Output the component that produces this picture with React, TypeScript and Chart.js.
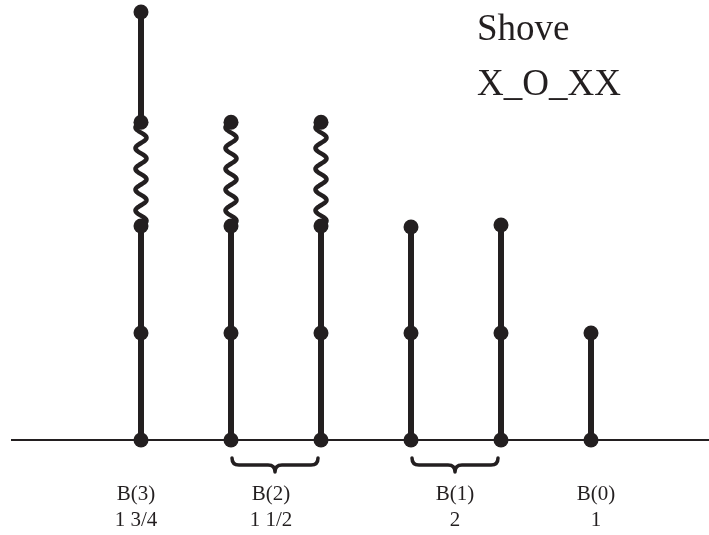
import React, { useEffect, useRef } from "react";
import { Chart, registerables } from "chart.js";

Chart.register(...registerables);

// ---- data ----
const stemX = [1, 2, 3, 4, 5, 6];
const stemLevels = [
  [0, 1, 2, 2.97, 4],
  [0, 1, 2, 2.97],
  [0, 1, 2, 2.97],
  [0, 1, 1.99],
  [0, 1, 2.01],
  [0, 1],
];
// index of the segment (from level k to k+1) that is a wavy spring; null = none
const springSegment: (number | null)[] = [2, 2, 2, null, null, null];
const groupNames = ["B(3)", "B(2)", "B(1)", "B(0)"];
const groupValues = ["1 3/4", "1 1/2", "2", "1"];
const groupStems = [[0], [1, 2], [3, 4], [5]];
const titleLines = ["Shove", "X_O_XX"];

const INK = "#231f20";
const W = 709;
const H = 535;

function buildPoints(i: number) {
  const pts: { x: number; y: number | null }[] = [];
  const lv = stemLevels[i];
  for (let k = 0; k < lv.length; k++) {
    pts.push({ x: stemX[i], y: lv[k] });
    if (springSegment[i] === k && k < lv.length - 1) {
      pts.push({ x: stemX[i], y: null });
    }
  }
  return pts;
}

const decorPlugin = {
  id: "decor",
  beforeDatasetsDraw(chart: any) {
    const { ctx, scales, chartArea } = chart;
    const xs = scales.x;
    const ys = scales.y;
    const base = ys.getPixelForValue(0);
    ctx.save();
    // baseline axis
    ctx.strokeStyle = INK;
    ctx.lineWidth = 2;
    ctx.beginPath();
    ctx.moveTo(chartArea.left + 11, base);
    ctx.lineTo(chartArea.right, base);
    ctx.stroke();
    // springs
    ctx.lineWidth = 4.5;
    ctx.lineJoin = "round";
    ctx.lineCap = "round";
    stemX.forEach((sx, i) => {
      const k = springSegment[i];
      if (k === null) return;
      const lv = stemLevels[i];
      const px = xs.getPixelForValue(sx);
      const yTop = ys.getPixelForValue(lv[k + 1]);
      const yBot = ys.getPixelForValue(lv[k]);
      const n = 5;
      const A = 5.5;
      ctx.beginPath();
      const steps = 200;
      for (let s = 0; s <= steps; s++) {
        const t = s / steps;
        const y = yTop + t * (yBot - yTop);
        const x = px - A * Math.sin(2 * Math.PI * n * t);
        if (s === 0) ctx.moveTo(x, y);
        else ctx.lineTo(x, y);
      }
      ctx.stroke();
    });
    ctx.restore();
  },
  afterDatasetsDraw(chart: any) {
    const { ctx, scales, chartArea } = chart;
    const xs = scales.x;
    const ys = scales.y;
    const base = ys.getPixelForValue(0);
    ctx.save();
    ctx.fillStyle = INK;
    ctx.strokeStyle = INK;
    // braces
    ctx.lineWidth = 3.5;
    ctx.lineCap = "round";
    ctx.lineJoin = "round";
    groupStems.forEach((g) => {
      if (g.length < 2) return;
      const x1 = xs.getPixelForValue(stemX[g[0]]) + 1;
      const x2 = xs.getPixelForValue(stemX[g[g.length - 1]]) - 3;
      const y0 = base + 18;
      const r = 7;
      const mid = (x1 + x2) / 2;
      ctx.beginPath();
      ctx.moveTo(x1, y0);
      ctx.quadraticCurveTo(x1, y0 + r, x1 + r, y0 + r);
      ctx.lineTo(mid - r, y0 + r);
      ctx.quadraticCurveTo(mid, y0 + r, mid, y0 + 2 * r);
      ctx.quadraticCurveTo(mid, y0 + r, mid + r, y0 + r);
      ctx.lineTo(x2 - r, y0 + r);
      ctx.quadraticCurveTo(x2, y0 + r, x2, y0);
      ctx.stroke();
    });
    // group labels
    const nudges = [-5, -5, -1, 5];
    ctx.font = '21px "Liberation Serif", "Times New Roman", serif';
    ctx.textAlign = "center";
    ctx.textBaseline = "alphabetic";
    groupNames.forEach((name, gi) => {
      const g = groupStems[gi];
      const cx =
        g.reduce((acc, si) => acc + xs.getPixelForValue(stemX[si]), 0) / g.length + nudges[gi];
      ctx.fillText(name, cx, base + 60);
      ctx.fillText(groupValues[gi], cx, base + 86);
    });
    // title
    ctx.font = '37px "Liberation Serif", "Times New Roman", serif';
    ctx.textAlign = "left";
    titleLines.forEach((t, k) => {
      ctx.fillText(t, chartArea.left + 477, chartArea.top + 40 + k * 55);
    });
    ctx.restore();
  },
};

export default function App() {
  const ref = useRef<HTMLCanvasElement | null>(null);
  useEffect(() => {
    if (!ref.current) return;
    const datasets = stemX.map((_, i) => ({
      data: buildPoints(i),
      showLine: true,
      spanGaps: false,
      borderColor: INK,
      borderWidth: 6,
      pointRadius: 7.5,
      pointHoverRadius: 7.5,
      pointBackgroundColor: INK,
      pointBorderWidth: 0,
      clip: false as any,
    }));
    const chart = new Chart(ref.current, {
      type: "scatter",
      data: { datasets: datasets as any },
      options: {
        responsive: false,
        animation: false,
        layout: { padding: 0, autoPadding: false } as any,
        plugins: { legend: { display: false }, tooltip: { enabled: false } },
        events: [],
        scales: {
          x: { type: "linear", min: 1 - 141 / 90, max: 1 - 141 / 90 + W / 90, display: false },
          y: { type: "linear", min: -(H - 440) / 107, max: -(H - 440) / 107 + H / 107, display: false },
        },
      },
      plugins: [decorPlugin],
    });
    return () => chart.destroy();
  }, []);
  return (
    <div style={{ position: "fixed", left: 0, top: 0, width: W, height: H, background: "#fff" }}>
      <canvas ref={ref} width={W} height={H} style={{ display: "block" }} />
    </div>
  );
}
